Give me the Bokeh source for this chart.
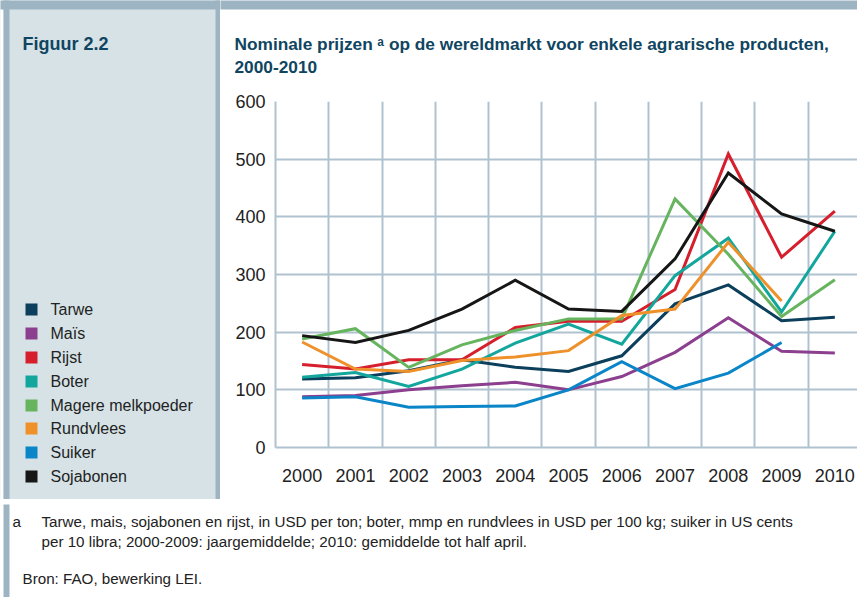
import numpy as np
from bokeh.plotting import figure
from bokeh.models import Label, FixedTicker, Range1d
from bokeh.layouts import column, row
from bokeh.embed import file_html
from bokeh.resources import INLINE

# ---------------- data ----------------
years = [2000, 2001, 2002, 2003, 2004, 2005, 2006, 2007, 2008, 2009, 2010]
y_ticks = [0, 100, 200, 300, 400, 500, 600]

tarwe = [119, 121, 133, 152, 139, 132, 159, 249, 282, 220, 226]
mais = [88, 90, 100, 107, 113, 100, 123, 165, 225, 167, 164]
rijst = [144, 136, 152, 152, 208, 219, 219, 274, 509, 330, 410]
boter = [122, 130, 106, 136, 181, 214, 179, 298, 363, 235, 375]
melkpoeder = [188, 206, 139, 178, 203, 223, 223, 431, 335, 227, 291]
rundvlees = [183, 136, 132, 151, 157, 168, 229, 240, 356, 254, None]
suiker = [86, 88, 70, 71, 72, 100, 149, 102, 129, 182, None]
sojabonen = [194, 182, 203, 240, 290, 240, 236, 327, 476, 405, 375]

series_names = ["Tarwe", "Maïs", "Rijst", "Boter", "Magere melkpoeder",
                "Rundvlees", "Suiker", "Sojabonen"]
series_values = [tarwe, mais, rijst, boter, melkpoeder, rundvlees, suiker, sojabonen]
series_colors = ["#0b3f5c", "#8b3f8e", "#d61f2c", "#13a69d", "#67b45f",
                 "#ef912b", "#0a85c7", "#161616"]

title_fig = "Figuur 2.2"
title_lines = ["Nominale prijzen \u1d43 op de wereldmarkt voor enkele agrarische producten,",
               "2000-2010"]
foot_mark = "a"
foot_lines = ["Tarwe, mais, sojabonen en rijst, in USD per ton; boter, mmp en rundvlees in USD per 100 kg; suiker in US cents",
              "per 10 libra; 2000-2009: jaargemiddelde; 2010: gemiddelde tot half april."]
source_note = "Bron: FAO, bewerking LEI."

# ---------------- styling ----------------
FRAME_GRAY = "#9db4c3"
PANEL = "#d6e2e6"
GRID = "#afc2cf"
TITLE_COL = "#0f4561"
TEXT_COL = "#222222"
SANS = "Liberation Sans"


def no_align(f):
    if "frame_align" in f.properties():
        f.frame_align = False
    return f


def panel(w, h, bg):
    f = figure(width=w, height=h, output_backend="svg", toolbar_location=None,
               x_range=Range1d(0, w), y_range=Range1d(h, 0), min_border=0,
               x_axis_location=None, y_axis_location=None)
    f.grid.visible = False
    f.outline_line_color = None
    f.background_fill_color = bg
    f.border_fill_color = bg
    return no_align(f)


def rect(f, l, r, t, b, color):
    f.quad(left=[l], right=[r], top=[t], bottom=[b], fill_color=color,
           line_color=None)


def label(f, x, y, text, size, color=TEXT_COL, style="normal"):
    f.add_layout(Label(x=x, y=y, text=text, text_font=SANS, text_font_size=size,
                       text_color=color, text_font_style=style,
                       text_baseline="middle", text_align="left"))


# ---- left panel incl. separator (page x 0..220, y 0..499) ----
left = panel(220, 499, PANEL)
rect(left, -5, 3, -5, 504, "white")
rect(left, 3, 9, -5, 504, FRAME_GRAY)
rect(left, -5, 225, -5, 9, FRAME_GRAY)
rect(left, 215, 225, -5, 504, FRAME_GRAY)
label(left, 22, 43, title_fig, "18px", color=TITLE_COL, style="bold")
leg_y = [309, 333, 357, 381, 405, 428, 452, 476]
for name, col, yy in zip(series_names, series_colors, leg_y):
    rect(left, 25, 37, yy - 6, yy + 6, col)
    label(left, 50, yy, name, "16px")

# ---- title block (page x 220..857, y 0..80) ----
tfig = panel(637, 80, "white")
rect(tfig, -5, 642, -5, 9, FRAME_GRAY)
label(tfig, 14, 43, title_lines[0], "17.3px", color=TITLE_COL, style="bold")
label(tfig, 14, 66, title_lines[1], "17.3px", color=TITLE_COL, style="bold")

# ---- chart (page x 220..857, y 80..499) ----
p = figure(width=637, height=419, output_backend="svg", toolbar_location=None,
           x_range=Range1d(1999.5, 2010.425), y_range=Range1d(0, 600),
           min_border_left=55, min_border_right=0, min_border_top=21,
           min_border_bottom=52)
no_align(p)
p.outline_line_color = None
p.background_fill_color = "white"
p.border_fill_color = "white"

p.xaxis.ticker = FixedTicker(ticks=years)
p.yaxis.ticker = FixedTicker(ticks=y_ticks)
for ax in (p.xaxis[0], p.yaxis[0]):
    ax.axis_line_color = GRID
    ax.axis_line_width = 2
    ax.major_tick_line_color = None
    ax.minor_tick_line_color = None
    ax.major_tick_out = 0
    ax.major_tick_in = 0
    ax.major_label_text_font = SANS
    ax.major_label_text_font_size = "18px"
    ax.major_label_text_color = TEXT_COL
p.xaxis.major_label_standoff = 21
p.yaxis.major_label_standoff = 10

p.xgrid.ticker = FixedTicker(ticks=[y + 0.5 for y in years])
p.xgrid.grid_line_color = GRID
p.xgrid.grid_line_width = 2
p.ygrid.ticker = FixedTicker(ticks=y_ticks)
p.ygrid.grid_line_color = GRID
p.ygrid.grid_line_width = 2

for name, vals, col in zip(series_names, series_values, series_colors):
    arr = np.array([np.nan if v is None else v for v in vals], dtype=float)
    p.line(years, arr, line_color=col, line_width=3, line_join="miter")

# ---- band and footer ----
band = panel(857, 5, FRAME_GRAY)
rect(band, -5, 862, -5, 10, FRAME_GRAY)
foot = panel(857, 93, "white")
rect(foot, 3, 9, -5, 98, FRAME_GRAY)
label(foot, 12, 17, foot_mark, "15.2px")
label(foot, 41, 17, foot_lines[0], "15.2px")
label(foot, 41, 37, foot_lines[1], "15.2px")
label(foot, 22, 74, source_note, "15.2px")

layout = column(row(left, column(tfig, p)), band, foot)

open("out.html", "w").write(file_html(layout, INLINE))
